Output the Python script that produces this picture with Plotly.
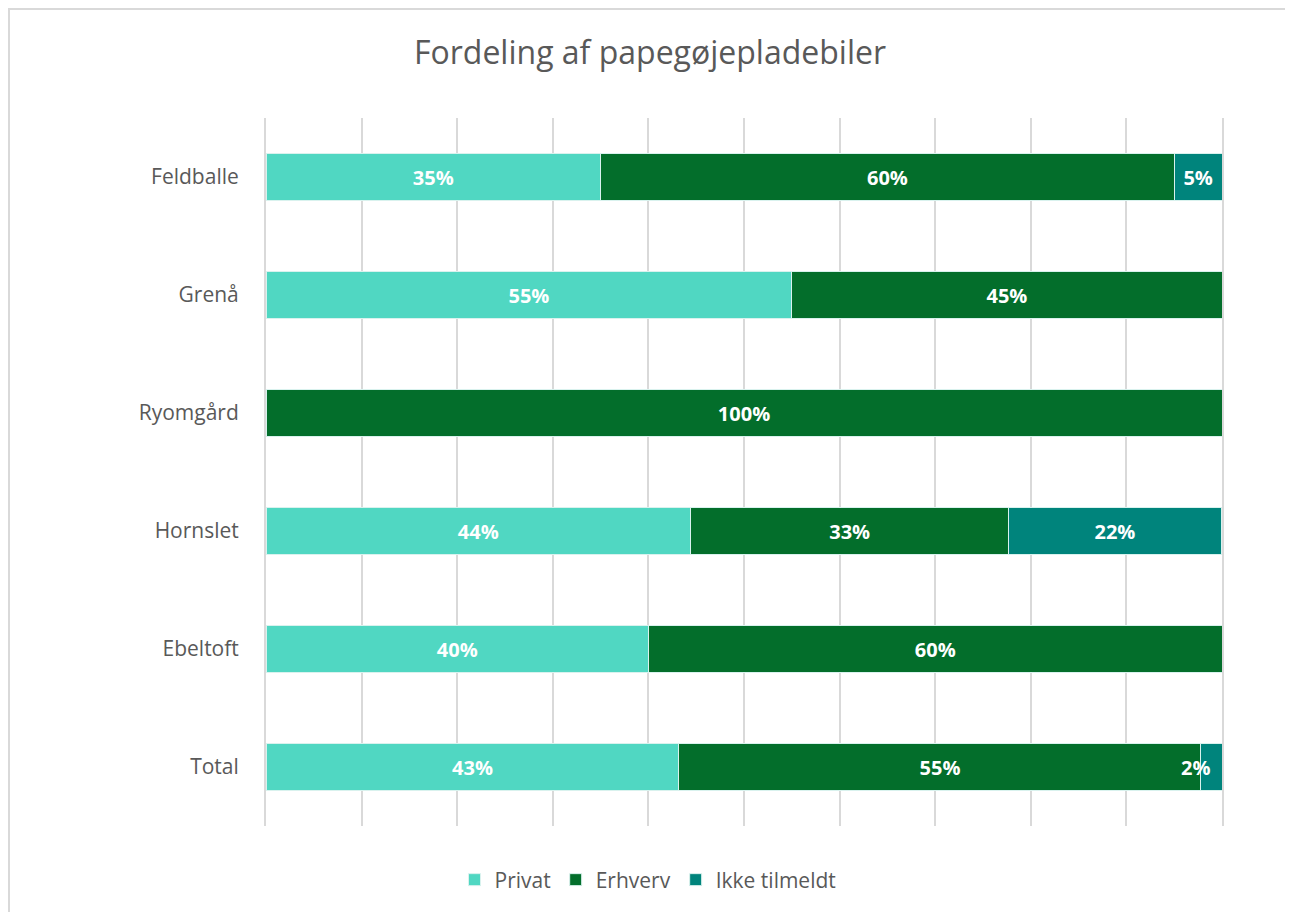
import plotly.graph_objects as go

categories = ["Feldballe", "Grenå", "Ryomgård", "Hornslet", "Ebeltoft", "Total"]
privat = [35.0, 55.0, 0.0, 44.4, 40.0, 43.2]
erhverv = [60.0, 45.0, 100.0, 33.3, 60.0, 54.6]
ikke_tilmeldt = [5.0, 0.0, 0.0, 22.2, 0.0, 2.2]

series = [
    ("Privat", privat, "#50D7C2"),
    ("Erhverv", erhverv, "#036E2B"),
    ("Ikke tilmeldt", ikke_tilmeldt, "#00847C"),
]

OFF = 8  # page body margin
W, H = 1293 - OFF, 912 - OFF
L, R, T, B = 266 - OFF, 1222 - OFF, 118 - OFF, 826 - OFF

label_font = dict(family="Open Sans", size=20, color="white", weight="bold")

fig = go.Figure()
small = []
for name, vals, col in series:
    texts = []
    for i, v in enumerate(vals):
        if v <= 0:
            texts.append("")
        elif v < 4:
            texts.append("")
            xend = min(100.0, round(privat[i] + erhverv[i] + ikke_tilmeldt[i], 6))
            small.append((categories[i], xend, f"{v:.0f}%"))
        else:
            texts.append(f"{v:.0f}%")
    fig.add_trace(go.Bar(
        y=categories, x=vals, name=name, orientation="h",
        marker=dict(color=col, line=dict(color="#D9F2EE", width=1)),
        text=texts,
        textposition="inside", insidetextanchor="middle",
        constraintext="none", textangle=0, cliponaxis=False,
        textfont=label_font,
        hoverinfo="skip",
    ))

for cat, xend, txt in small:
    fig.add_annotation(x=xend, y=cat, xref="x", yref="y", text=txt, showarrow=False,
                       xanchor="right", xshift=-10, font=label_font)

fig.update_layout(
    barmode="stack", bargap=0.6,
    width=W, height=H,
    margin=dict(l=L, r=W - R, t=T, b=H - B),
    paper_bgcolor="white", plot_bgcolor="white",
    title=dict(text="Fordeling af papegøjepladebiler", x=(650 - OFF) / W, xanchor="center",
               y=1 - (53 - OFF) / H, yanchor="middle",
               font=dict(family="Open Sans", size=32, color="#595959")),
    legend=dict(orientation="h", x=(648 - OFF) / W, xanchor="center",
                xref="container", y=1 - (880 - OFF) / H, yref="container", yanchor="middle",
                font=dict(family="Open Sans", size=21, color="#595959"),
                itemwidth=30, traceorder="normal"),
    xaxis=dict(range=[0, 100], dtick=10, showticklabels=False, showgrid=True,
               gridcolor="#D9D9D9", gridwidth=2, zeroline=False, showline=False,
               fixedrange=True),
    yaxis=dict(autorange="reversed", showgrid=False, zeroline=False,
               showline=True, mirror=True, linecolor="#D9D9D9", linewidth=2,
               ticks="", ticklabelstandoff=21,
               tickfont=dict(family="Open Sans", size=21, color="#595959")),
)

fig.add_shape(type="rect", xref="paper", yref="paper",
              x0=(1 - L) / (R - L), x1=(1310 - L) / (R - L),
              y0=(B - 930) / (B - T), y1=(B - 1) / (B - T),
              line=dict(color="#D9D9D9", width=2), fillcolor="rgba(0,0,0,0)", layer="below")

fig.write_html("out.html")
